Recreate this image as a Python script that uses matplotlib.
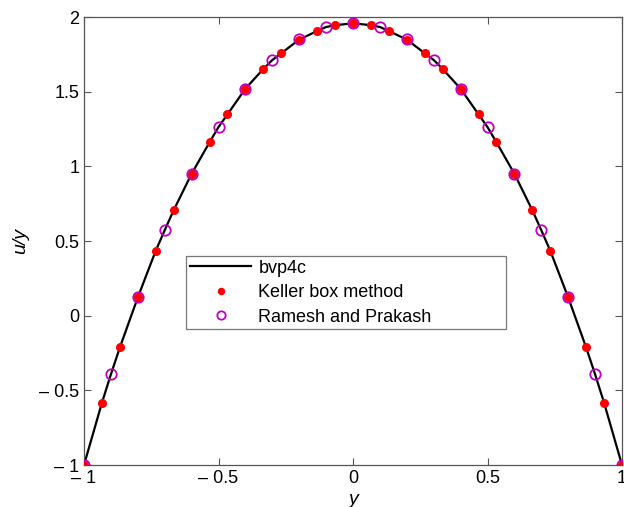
import matplotlib
matplotlib.use("Agg")
import matplotlib.pyplot as plt
import numpy as np

plt.rcParams['font.family'] = ['Liberation Sans', 'DejaVu Sans']

# Keller box method: y = k/15
keller_y = [-1, -14/15, -13/15, -12/15, -11/15, -10/15, -9/15, -8/15, -7/15, -6/15, -5/15,
            -4/15, -3/15, -2/15, -1/15, 0, 1/15, 2/15, 3/15, 4/15, 5/15, 6/15, 7/15, 8/15,
            9/15, 10/15, 11/15, 12/15, 13/15, 14/15, 1]
keller_u = [-1.0, -0.583, -0.213, 0.122, 0.435, 0.706, 0.950, 1.161, 1.348, 1.520, 1.652,
            1.757, 1.848, 1.906, 1.945, 1.958, 1.945, 1.906, 1.848, 1.757, 1.652, 1.520,
            1.348, 1.161, 0.950, 0.706, 0.435, 0.122, -0.213, -0.583, -1.0]

# Ramesh and Prakash
ramesh_y = [-1.0, -0.9, -0.8, -0.7, -0.6, -0.5, -0.4, -0.3, -0.2, -0.1, 0.0,
            0.1, 0.2, 0.3, 0.4, 0.5, 0.6, 0.7, 0.8, 0.9, 1.0]
ramesh_u = [-1.0, -0.393, 0.122, 0.572, 0.950, 1.263, 1.520, 1.712, 1.850, 1.933, 1.958,
            1.933, 1.850, 1.712, 1.520, 1.263, 0.950, 0.572, 0.122, -0.393, -1.0]

# bvp4c solution curve
bvp_y = [-1.0, -0.9333, -0.9, -0.8667, -0.8, -0.7333, -0.7, -0.6667, -0.6, -0.5333, -0.5,
         -0.4667, -0.4, -0.3333, -0.3, -0.2667, -0.2, -0.1333, -0.1, -0.0667, 0.0,
         0.0667, 0.1, 0.1333, 0.2, 0.2667, 0.3, 0.3333, 0.4, 0.4667, 0.5, 0.5333, 0.6,
         0.6667, 0.7, 0.7333, 0.8, 0.8667, 0.9, 0.9333, 1.0]
bvp_u = [-1.0, -0.583, -0.393, -0.213, 0.122, 0.435, 0.572, 0.706, 0.950, 1.161, 1.263,
         1.348, 1.520, 1.652, 1.712, 1.757, 1.849, 1.906, 1.933, 1.945, 1.958,
         1.945, 1.933, 1.906, 1.849, 1.757, 1.712, 1.652, 1.520, 1.348, 1.263, 1.161, 0.950,
         0.706, 0.572, 0.435, 0.122, -0.213, -0.393, -0.583, -1.0]

xticks = [-1, -0.5, 0, 0.5, 1]
xtick_labels = ['– 1', '– 0.5', '0', '0.5', '1']
yticks = [-1, -0.5, 0, 0.5, 1, 1.5, 2]
ytick_labels = ['– 1', '– 0.5', '0', '0.5', '1', '1.5', '2']

fig = plt.figure(figsize=(6.24, 5.07), dpi=100)
ax = fig.add_axes([84/624, 42/507, 538/624, 448/507])

ax.plot(bvp_y, bvp_u, color='black', lw=1.6, label='bvp4c', zorder=2)
ax.plot(keller_y, keller_u, 'o', color='#ff0000', ms=5.5, mec='#ff0000',
        label='Keller box method', zorder=3)
ax.plot(ramesh_y, ramesh_u, 'o', mfc='none', mec='#c000c0', mew=1.3, ms=7.5,
        label='Ramesh and Prakash', zorder=4)

ax.set_xlim(-1, 1)
ax.set_ylim(-1, 2)
ax.set_xticks(xticks)
ax.set_xticklabels(xtick_labels)
ax.set_yticks(yticks)
ax.set_yticklabels(ytick_labels)
ax.tick_params(direction='in', top=True, right=True, labelsize=13, length=5,
               color='#555555', width=0.8)
for s in ax.spines.values():
    s.set_color('#555555')
    s.set_linewidth(0.9)

ax.set_xlabel('y', fontsize=14, style='italic', labelpad=3)
ax.set_ylabel('u/y', fontsize=14, style='italic', labelpad=7)

leg = ax.legend(loc='upper left', bbox_to_anchor=(0.19, 0.4665, 0.594, 0.0), mode='expand',
                fontsize=13, frameon=True, fancybox=False, borderpad=0.2,
                handlelength=3.4, handletextpad=0.4, labelspacing=0.42, borderaxespad=0,
                markerscale=0.8)
leg.get_frame().set_edgecolor('#555555')
leg.get_frame().set_linewidth(0.9)

fig.savefig('out.png', dpi=100)
